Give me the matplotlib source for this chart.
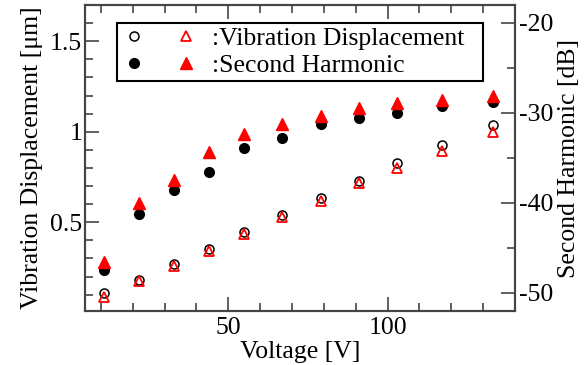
#!/usr/bin/env python3

import matplotlib

matplotlib.use("Agg")
import matplotlib.pyplot as plt
from matplotlib.legend_handler import HandlerTuple
from matplotlib.ticker import MultipleLocator, FuncFormatter

# voltage steps [V]
voltage = [11, 22, 33, 44, 55, 67, 79, 91, 103, 117, 133]

# vibration displacement [um] (open markers, left axis)
disp_circle = [0.109, 0.181, 0.269, 0.352, 0.446, 0.538, 0.635, 0.729, 0.828, 0.928, 1.035]
disp_triangle = [0.089, 0.175, 0.258, 0.341, 0.435, 0.529, 0.618, 0.715, 0.801, 0.895, 1.000]

# second harmonic [dB] (filled markers, right axis)
harm_circle = [-47.5, -41.3, -38.6, -36.6, -33.9, -32.8, -31.3, -30.6, -30.0, -29.3, -28.8]
harm_triangle = [-46.6, -40.0, -37.5, -34.4, -32.4, -31.3, -30.4, -29.5, -28.9, -28.6, -28.1]

SPINE = "#444444"
FS = 18.5


def style_axis(ax):
    for side in ax.spines.values():
        side.set_color(SPINE)
        side.set_linewidth(1.5)


def main() -> None:
    plt.rcParams["font.family"] = ["Liberation Serif", "DejaVu Serif"]
    plt.rcParams["font.size"] = FS
    plt.rcParams["axes.unicode_minus"] = False

    fig = plt.figure(figsize=(5.88, 3.65), dpi=100)
    ax = fig.add_axes((85 / 588, 1 - 311 / 365, 430 / 588, 306 / 365))
    ax2 = ax.twinx()

    oc, = ax.plot(voltage, disp_circle, linestyle="none", marker="o", markersize=6.5,
                  markerfacecolor="none", markeredgecolor="black", markeredgewidth=1.1)
    ot, = ax.plot(voltage, disp_triangle, linestyle="none", marker="^", markersize=7.5,
                  markerfacecolor="none", markeredgecolor="red", markeredgewidth=1.3)
    fc, = ax2.plot(voltage, harm_circle, linestyle="none", marker="o", markersize=7,
                   color="black")
    ft, = ax2.plot(voltage, harm_triangle, linestyle="none", marker="^", markersize=8,
                   color="red")

    ax.set_xlim(5, 140)
    ax.set_ylim(0.01, 1.70)
    ax2.set_ylim(-52.03, -18.03)

    ax.xaxis.set_major_locator(MultipleLocator(50))
    ax.xaxis.set_minor_locator(MultipleLocator(10))
    ax.yaxis.set_major_locator(MultipleLocator(0.5))
    ax.yaxis.set_minor_locator(MultipleLocator(0.1))
    ax2.yaxis.set_major_locator(MultipleLocator(10))
    ax2.yaxis.set_minor_locator(MultipleLocator(5))
    ax.yaxis.set_major_formatter(FuncFormatter(lambda v, p: f"{v:g}"))
    ax2.yaxis.set_major_formatter(FuncFormatter(lambda v, p: f"{v:g}"))

    ax.tick_params(which="both", direction="in", colors=SPINE, labelcolor="black",
                   top=True, right=False, width=1.2)
    ax.tick_params(which="major", length=10)
    ax.tick_params(which="minor", length=6)
    ax.tick_params(axis="y", pad=2)
    ax.tick_params(axis="x", pad=4)
    ax2.tick_params(which="both", direction="in", colors=SPINE, labelcolor="black",
                    width=1.2, pad=3)
    ax2.tick_params(which="major", length=10)
    ax2.tick_params(which="minor", length=6)

    style_axis(ax)
    style_axis(ax2)

    ax.set_xlabel("Voltage [V]", labelpad=2)
    ax.set_ylabel("Vibration Displacement [\u03bcm]", labelpad=5)
    ax2.set_ylabel("Second Harmonic [dB]", labelpad=3)

    # legend frame spans x 117..483 px, y 23..81 px in the figure
    leg = ax2.legend(
        [(oc, ot), (fc, ft)],
        [":Vibration Displacement", ":Second Harmonic"],
        handler_map={tuple: HandlerTuple(ndivide=None, pad=1.06)},
        loc="upper left",
        mode="expand",
        bbox_to_anchor=((117 - 85) / 430, (311 - 81) / 306, 366 / 430, 58 / 306),
        borderaxespad=0,
        borderpad=0.17,
        handlelength=2.99,
        handletextpad=0.53,
        labelspacing=0.13,
        fancybox=False,
        framealpha=1,
        edgecolor="black",
        fontsize=FS,
    )
    leg.get_frame().set_linewidth(1.5)

    fig.savefig("out.png", dpi=100)
    plt.close(fig)


if __name__ == "__main__":
    main()
